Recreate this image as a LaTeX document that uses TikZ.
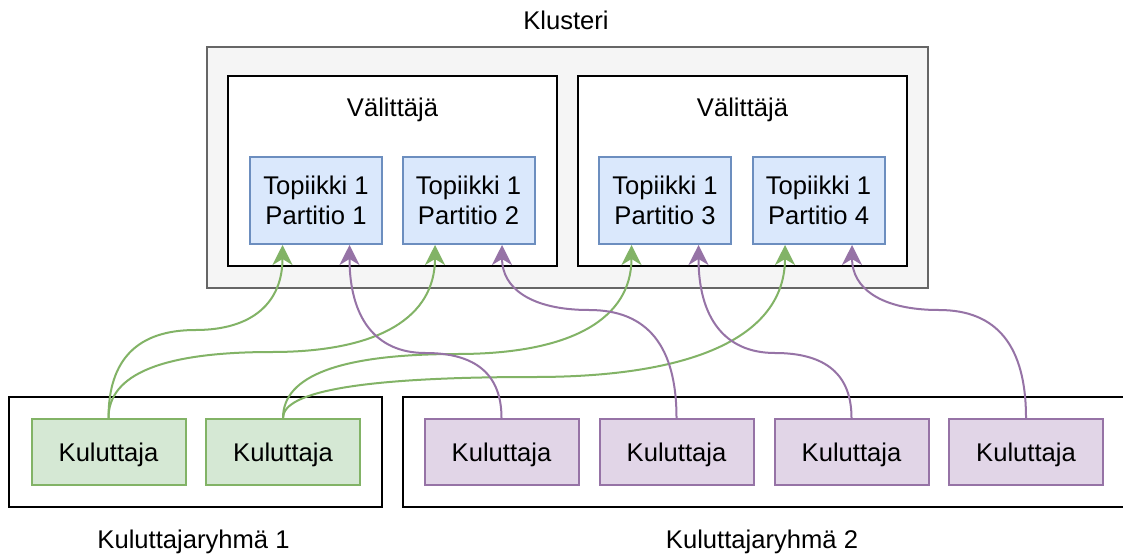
\documentclass[tikz,border=0pt]{standalone}
\usepackage{fontspec}
\setmainfont{Liberation Sans}
\usetikzlibrary{calc,arrows.meta}

\definecolor{clusterfill}{HTML}{F5F5F5}
\definecolor{clusterline}{HTML}{666666}
\definecolor{partfill}{HTML}{DAE8FC}
\definecolor{partline}{HTML}{6C8EBF}
\definecolor{grponefill}{HTML}{D5E8D4}
\definecolor{grponeline}{HTML}{82B366}
\definecolor{grptwofill}{HTML}{E1D5E7}
\definecolor{grptwoline}{HTML}{9673A6}

% Curved connector: leaves the source vertically, runs level at height #4,
% then rises vertically into the target (two quadratic pieces as cubics).
\newcommand\flowlink[4]{%
  \draw[#1] let \p1=(#2), \p2=(#3), \p3=(0,#4), \n1={0.5*(\x1+\x2)} in
    (\p1) .. controls (\x1,{\y1+2/3*(\y3-\y1)}) and ({\n1+2/3*(\x1-\n1)},\y3) .. (\n1,\y3)
          .. controls ({\n1+2/3*(\x2-\n1)},\y3) and (\x2,{\y2+2/3*(\y3-\y2)}) .. (\p2);}

\begin{document}
\begin{tikzpicture}[x=1pt,y=-1pt,
  every node/.style={font=\fontsize{25.6}{30.5}\selectfont, inner sep=0pt},
  frame/.style={draw, line width=2pt, rectangle},
  cluster/.style={frame, fill=clusterfill, draw=clusterline},
  broker/.style={frame, fill=white, draw=black, minimum width=329pt, minimum height=190pt},
  group/.style={frame, fill=white, draw=black, minimum height=110pt},
  partbox/.style={frame, fill=partfill, draw=partline, minimum width=132pt, minimum height=87pt, align=center},
  consumer/.style={frame, minimum width=154pt, minimum height=66pt, text depth=0pt},
  consumerone/.style={consumer, fill=grponefill, draw=grponeline},
  consumertwo/.style={consumer, fill=grptwofill, draw=grptwoline},
  caption/.style={anchor=base},
  tip/.style={-{Stealth[length=20pt,width=20pt,inset=6pt]}},
  linkone/.style={draw=grponeline, line width=2pt, tip},
  linktwo/.style={draw=grptwoline, line width=2pt, tip},
]
\path[use as bounding box, clip] (0,0) rectangle (1123,554);
\fill[white] (0,0) rectangle (1123,554);

% cluster with its two brokers
\node[caption] (clabel) at (566,29) {Klusteri};
\node[cluster, minimum width=721pt, minimum height=241pt] (cluster) at (567.5,167.5) {};
\node[broker] (b1) at (392.5,171) {};
\node[broker] (b2) at (742.5,171) {};
\node[caption] (b1label) at (392.5,116) {Välittäjä};
\node[caption] (b2label) at (742.5,116) {Välittäjä};

\node[partbox] (p1) at (316,200.5) {Topiikki 1\\Partitio 1};
\node[partbox] (p2) at (468.5,200.5) {Topiikki 1\\Partitio 2};
\node[partbox] (p3) at (665,200.5) {Topiikki 1\\Partitio 3};
\node[partbox] (p4) at (818.5,200.5) {Topiikki 1\\Partitio 4};

% consumer groups
\node[group, minimum width=373pt] (g1box) at (195.5,452) {};
\node[group, minimum width=727pt] (g2box) at (766.5,452) {};
\node[caption] (g1label) at (193.5,548) {Kuluttajaryhmä 1};
\node[caption] (g2label) at (762,548) {Kuluttajaryhmä 2};

\node[consumerone] (c1) at (108.5,452) {Kuluttaja};
\node[consumerone] (c2) at (283,452) {Kuluttaja};
\node[consumertwo] (c3) at (501.5,452) {Kuluttaja};
\node[consumertwo] (c4) at (676.5,452) {Kuluttaja};
\node[consumertwo] (c5) at (851.5,452) {Kuluttaja};
\node[consumertwo] (c6) at (1026,452) {Kuluttaja};

% entry points on the partitions: left quarter for group 1, right quarter for group 2
\foreach \p in {p1,p2,p3,p4}{
  \coordinate (\p in1) at ($(\p.south west)!0.25!(\p.south east)$);
  \coordinate (\p in2) at ($(\p.south west)!0.75!(\p.south east)$);
}

% connectors
\flowlink{linkone}{c1.north}{p1in1}{330}
\flowlink{linkone}{c1.north}{p2in1}{352}
\flowlink{linkone}{c2.north}{p3in1}{354}
\flowlink{linkone}{c2.north}{p4in1}{377}
\flowlink{linktwo}{c3.north}{p1in2}{353}
\flowlink{linktwo}{c4.north}{p2in2}{310}
\flowlink{linktwo}{c5.north}{p3in2}{353}
\flowlink{linktwo}{c6.north}{p4in2}{310}
\end{tikzpicture}
\end{document}
